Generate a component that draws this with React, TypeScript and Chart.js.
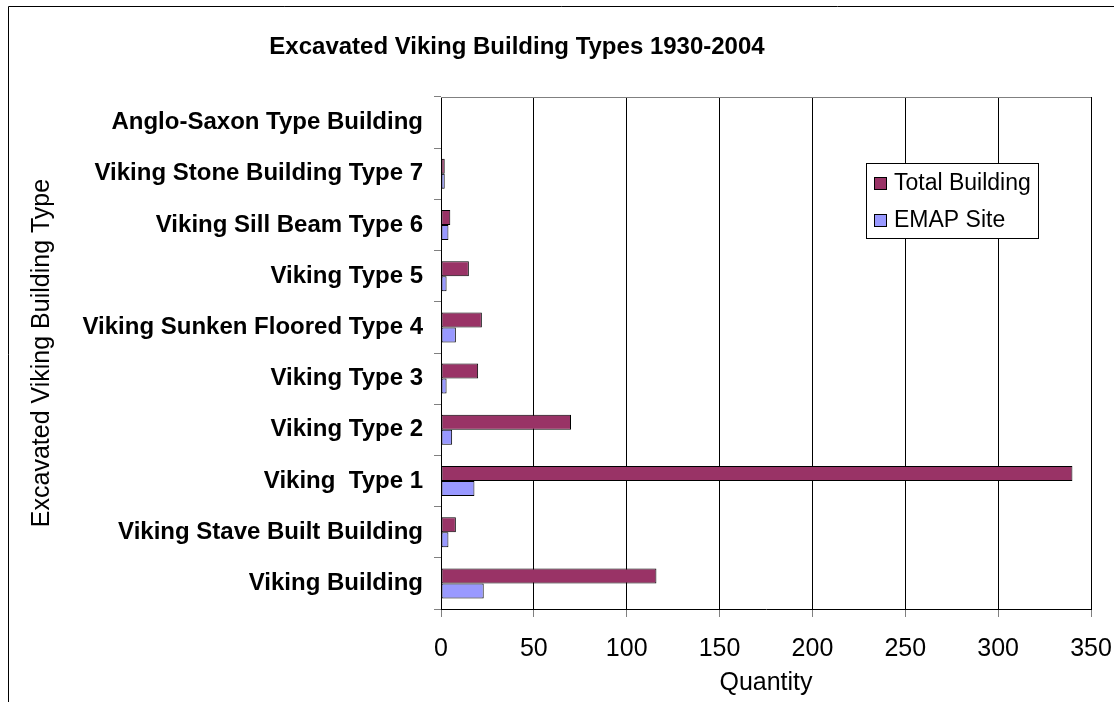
import React, { useEffect, useRef } from 'react';
import { Chart, registerables } from 'chart.js';

Chart.register(...registerables);

const categories = [
  'Anglo-Saxon Type Building',
  'Viking Stone Building Type 7',
  'Viking Sill Beam Type 6',
  'Viking Type 5',
  'Viking Sunken Floored Type 4',
  'Viking Type 3',
  'Viking Type 2',
  'Viking  Type 1',
  'Viking Stave Built Building',
  'Viking Building',
];
const totalBuilding = [0, 2, 5, 15, 22, 20, 70, 340, 8, 116];
const emapSite = [0, 2, 4, 3, 8, 3, 6, 18, 4, 23];
const seriesNames = ['Total Building', 'EMAP Site'];
const seriesColors = ['#993366', '#9999FF'];
const chartTitle = 'Excavated Viking Building Types 1930-2004';
const xMin = 0;
const xMax = 350;
const xStep = 50;

const FONT = '"Liberation Sans", Arial, Helvetica, sans-serif';

const framePlugin = {
  id: 'frameAndLegend',
  afterDraw(chart: any) {
    const { ctx, chartArea } = chart;
    ctx.save();
    // outer chart frame (extends beyond the picture at right and bottom)
    ctx.strokeStyle = '#000';
    ctx.lineWidth = 1;
    ctx.beginPath();
    ctx.moveTo(8.5, 702);
    ctx.lineTo(8.5, 6.5);
    ctx.lineTo(1114, 6.5);
    ctx.stroke();
    // plot area top border
    ctx.strokeStyle = '#808080';
    ctx.beginPath();
    ctx.moveTo(chartArea.left, Math.round(chartArea.top) + 0.5);
    ctx.lineTo(chartArea.right, Math.round(chartArea.top) + 0.5);
    ctx.stroke();
    // chart title (centred on the whole chart frame, as in the original)
    ctx.fillStyle = '#000';
    ctx.font = `bold 24px ${FONT}`;
    ctx.textAlign = 'center';
    ctx.textBaseline = 'middle';
    ctx.fillText(chartTitle, 517, 47);
    // legend
    const bx = 866, by = 163, bw = 172, bh = 75;
    ctx.fillStyle = '#fff';
    ctx.fillRect(bx, by, bw, bh);
    ctx.strokeStyle = '#000';
    ctx.strokeRect(bx + 0.5, by + 0.5, bw, bh);
    ctx.font = `23px ${FONT}`;
    ctx.textBaseline = 'middle';
    ctx.textAlign = 'left';
    chart.data.datasets.forEach((ds: any, i: number) => {
      const cy = 183 + i * 37;
      ctx.fillStyle = ds.backgroundColor;
      ctx.fillRect(874, cy - 6, 13, 13);
      ctx.strokeStyle = '#000';
      ctx.strokeRect(874.5, cy - 5.5, 12, 12);
      ctx.fillStyle = '#000';
      ctx.fillText(ds.label, 894, cy + 1);
    });
    ctx.restore();
  },
};

export default function App() {
  const ref = useRef<HTMLCanvasElement | null>(null);

  useEffect(() => {
    if (!ref.current) return;
    const chart = new Chart(ref.current, {
      type: 'bar',
      data: {
        labels: categories,
        datasets: [
          {
            label: seriesNames[0],
            data: totalBuilding,
            backgroundColor: seriesColors[0],
            borderColor: '#000',
            borderWidth: 1,
            borderSkipped: false,
            barPercentage: 1,
            categoryPercentage: 0.586,
          },
          {
            label: seriesNames[1],
            data: emapSite,
            backgroundColor: seriesColors[1],
            borderColor: '#000',
            borderWidth: 1,
            borderSkipped: false,
            barPercentage: 1,
            categoryPercentage: 0.586,
          },
        ],
      },
      options: {
        indexAxis: 'y',
        animation: false,
        responsive: false,
        devicePixelRatio: 1,
        layout: { padding: { left: 0, right: 23, top: 0, bottom: 0 } },
        plugins: {
          legend: { display: false },
          tooltip: { enabled: false },
          title: {
            display: true,
            text: chartTitle,
            color: 'rgba(0,0,0,0)',
            font: { family: FONT, size: 24, weight: 'bold' },
            padding: { top: 32.6, bottom: 35.6 },
          },
        },
        scales: {
          x: {
            type: 'linear',
            min: xMin,
            max: xMax,
            ticks: {
              stepSize: xStep,
              color: '#000',
              font: { family: FONT, size: 25 },
              padding: 17,
            },
            grid: {
              color: '#000',
              tickColor: '#808080',
              tickLength: 8,
              lineWidth: 1,
            },
            border: { display: true, color: '#000', width: 1 },
            title: {
              display: true,
              text: 'Quantity',
              color: '#000',
              font: { family: FONT, size: 25 },
              padding: { top: 0, bottom: 4 },
            },
            afterFit: (scale: any) => {
              scale.height = 93;
              scale.paddingLeft = 0;
              scale.paddingRight = 0;
            },
          },
          y: {
            type: 'category',
            offset: true,
            ticks: {
              autoSkip: false,
              color: '#000',
              font: { family: FONT, size: 24, weight: 'bold' },
              padding: 11,
            },
            grid: {
              offset: true,
              drawOnChartArea: false,
              drawTicks: true,
              tickLength: 7,
              color: '#808080',
            },
            border: { display: true, color: '#000', width: 1 },
            title: {
              display: true,
              text: 'Excavated Viking Building Type',
              color: '#000',
              font: { family: FONT, size: 25 },
              padding: { top: 27, bottom: 0 },
            },
            afterFit: (scale: any) => {
              scale.width = 441;
            },
          },
        },
      },
      plugins: [framePlugin],
    } as any);
    return () => chart.destroy();
  }, []);

  return (
    <div style={{ position: 'fixed', left: 0, top: 0, width: 1114, height: 702, background: '#fff' }}>
      <canvas ref={ref} width={1114} height={702} style={{ display: 'block' }} />
    </div>
  );
}
